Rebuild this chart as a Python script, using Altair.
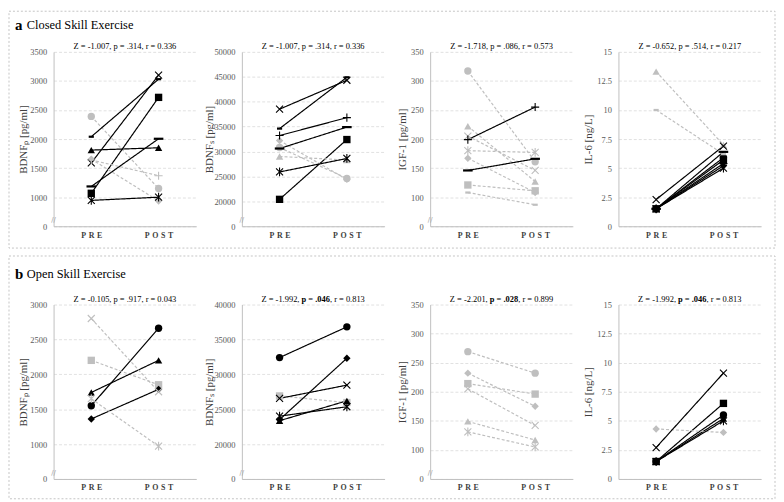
import altair as alt
import pandas as pd

SERIF = "Liberation Serif"

times = ["PRE", "POST"]

# ---------- a: Closed skill exercise (9 participants, one marker each) ----------
a_subjects = ["circle", "square", "triangle", "diamond", "x", "star", "plus", "sdash", "ldash"]
a1_pre = [2390, 1067, 1810, 1655, 1590, 945, 1640, 2040, 1185]
a1_post = [1150, 2717, 1850, 935, 3100, 1000, 1370, 3030, 2005]
a2_pre = [30800, 20400, 29000, 32200, 38500, 25900, 33200, 34600, 30600]
a2_post = [24600, 32400, 28300, 24400, 44300, 28600, 36800, 44900, 34900]
a3_pre = [317, 121, 222, 167, 205, 180, 199, 108, 146]
a3_post = [161, 111, 127, 108, 146, 177, 255, 87, 166]
a4_pre = [1.5, 1.5, 13.3, 1.5, 2.3, 1.5, 1.5, 10.0, 1.5]
a4_post = [5.9, 5.7, 7.0, 5.2, 6.9, 5.0, 5.4, 6.2, 6.4]

# ---------- b: Open skill exercise (6 participants) ----------
b_subjects = ["circle", "square", "triangle", "diamond", "x", "star"]
b1_pre = [1550, 2200, 1740, 1360, 2800, 1650]
b1_post = [2660, 1850, 2200, 1785, 1750, 970]
b2_pre = [32400, 26900, 23350, 23500, 26550, 24000]
b2_post = [36800, 25950, 26200, 32300, 28450, 25350]
b3_pre = [269, 214, 149, 232, 205, 131]
b3_post = [232, 196, 117, 175, 142, 105]
b4_pre = [1.5, 1.5, 1.5, 4.3, 2.7, 1.5]
b4_post = [5.5, 6.5, 5.2, 4.0, 9.1, 5.0]

# axis ticks (first tick is drawn as "0" on broken axes)
bdnfp_a_ticks = [500, 1000, 1500, 2000, 2500, 3000, 3500]
bdnfs_a_ticks = [15000, 20000, 25000, 30000, 35000, 40000, 45000, 50000]
igf_ticks = [50, 100, 150, 200, 250, 300, 350]
il6_ticks = [0, 2.5, 5, 7.5, 10, 12.5, 15]
bdnfp_b_ticks = [500, 1000, 1500, 2000, 2500, 3000]
bdnfs_b_ticks = [15000, 20000, 25000, 30000, 35000, 40000]

titles = ["BDNF\u209a [pg/ml]", "BDNF\u209b [pg/ml]", "IGF-1 [pg/ml]", "IL-6 [ng/L]"]

sub_a1 = [("Z = -1.007, p = .314, r = 0.336", False)]
sub_a2 = [("Z = -1.007, p = .314, r = 0.336", False)]
sub_a3 = [("Z = -1.718, p = .086, r = 0.573", False)]
sub_a4 = [("Z = -0.652, p = .514, r = 0.217", False)]
sub_b1 = [("Z = -0.105, p = .917, r = 0.043", False)]
sub_b2 = [("Z = -1.992,", False), ("p = .046", True), (", r = 0.813", False)]
sub_b3 = [("Z = -2.201,", False), ("p = .028", True), (", r = 0.899", False)]
sub_b4 = [("Z = -1.992,", False), ("p = .046", True), (", r = 0.813", False)]

SHAPE_DOMAIN = ["circle", "square", "triangle", "diamond", "x", "star", "plus", "sdash", "ldash"]
SHAPE_RANGE = [
    "circle", "square", "triangle-up", "diamond",
    "M-1,-1L1,1M-1,1L1,-1",
    "M-1,-1L1,1M-1,1L1,-1M0,-1.25L0,1.25",
    "M-1.15,0L1.15,0M0,-1.15L0,1.15",
    "M-0.7,-0.3H0.7V0.3H-0.7Z",
    "M-1.3,-0.3H1.3V0.3H-1.3Z",
]
FILLED = ["circle", "square", "triangle", "diamond", "sdash", "ldash"]
STROKED = ["x", "star", "plus"]

W, H = 144, 176
one = pd.DataFrame({"k": [0]})


def txt(text, x, y, **kw):
    return alt.Chart(one).mark_text(text=text, **kw).encode(x=alt.value(x), y=alt.value(y))


def make_panel(subjects, pre, post, ticks, ytitle, subtitle, broken, title_x, section=None):
    rows = []
    for s, a, b in zip(subjects, pre, post):
        trend = "up" if b > a else "down"
        rows.append(dict(subject=s, time="PRE", value=a, trend=trend))
        rows.append(dict(subject=s, time="POST", value=b, trend=trend))
    d = pd.DataFrame(rows)

    x = alt.X(
        "time:N",
        sort=times,
        scale=alt.Scale(type="point", domain=times, padding=0.56),
        axis=alt.Axis(
            title=None, labelAngle=0, ticks=False, grid=False,
            domainColor="#bfbfbf", domainWidth=1,
            labelFont=SERIF, labelFontWeight="bold", labelFontSize=8,
            labelColor="#404040", labelPadding=5,
            labelExpr="join(split(datum.label, ''), '\u2004')",
        ),
    )
    lo = ticks[0]
    y = alt.Y(
        "value:Q",
        scale=alt.Scale(domain=[ticks[0], ticks[-1]], nice=False, zero=False),
        axis=alt.Axis(
            values=ticks,
            labelExpr=f"datum.value == {lo} ? '0' : '' + datum.value",
            grid=True, gridDash=[3, 2], gridColor="#d9d9d9", gridWidth=0.8,
            domainColor="#bfbfbf", domainWidth=1,
            ticks=False, tickSize=0, labelPadding=7,
            labelFont=SERIF, labelFontSize=8.5, labelColor="#595959",
            title=ytitle, titleFont=SERIF, titleFontSize=11,
            titleFontWeight="normal", titleColor="#404040",
            titleX=title_x, titleY=H / 2, titleAngle=-90,
            titleAlign="center", titleBaseline="middle",
        ),
    )
    color = alt.Color("trend:N", scale=alt.Scale(domain=["up", "down"], range=["#000000", "#bfbfbf"]), legend=None)
    shape = alt.Shape("subject:N", scale=alt.Scale(domain=SHAPE_DOMAIN, range=SHAPE_RANGE), legend=None)

    lines = alt.Chart(d).mark_line(strokeWidth=1.2).encode(
        x=x, y=y, detail="subject:N", color=color,
        strokeDash=alt.StrokeDash("trend:N", scale=alt.Scale(domain=["up", "down"], range=[[1, 0], [3, 2]]), legend=None),
    )
    filled = alt.Chart(d).transform_filter(
        alt.FieldOneOfPredicate(field="subject", oneOf=FILLED)
    ).mark_point(filled=True, opacity=1, size=55).encode(x=x, y=y, shape=shape, color=color)
    stroked = alt.Chart(d).transform_filter(
        alt.FieldOneOfPredicate(field="subject", oneOf=STROKED)
    ).mark_point(filled=False, opacity=1, size=50, strokeWidth=1.1).encode(x=x, y=y, shape=shape, color=color)

    layers = [lines, filled, stroked]

    cx = W / 2
    if len(subtitle) == 1:
        layers.append(txt(subtitle[0][0], cx, -6, font=SERIF, fontSize=8.5, align="center", color="#000000"))
    else:
        left, bold, right = subtitle
        layers.append(txt(left[0], cx - 13.9, -6, font=SERIF, fontSize=8.5, align="right", color="#000000"))
        layers.append(txt(bold[0], cx - 11.8, -6, font=SERIF, fontSize=8.5, align="left", fontWeight="bold", color="#000000"))
        layers.append(txt(right[0], cx + 16.9, -6, font=SERIF, fontSize=8.5, align="left", color="#000000"))

    if broken:
        layers.append(txt("//", 0, H - 6, font="DejaVu Sans", fontSize=7, align="center", baseline="middle", color="#a6a6a6"))

    if section is not None:
        letter, name, top, bottom, base = section
        frame = alt.Chart(one).mark_rect(filled=False, color="#c4c4c4", strokeDash=[2, 2], strokeWidth=1).encode(
            x=alt.value(-45), x2=alt.value(728), y=alt.value(top), y2=alt.value(H + bottom)
        )
        layers.append(frame)
        layers.append(txt(letter, -39, base, font=SERIF, fontSize=15, fontWeight="bold", align="left", color="#000000"))
        layers.append(txt(name, -27, base, font=SERIF, fontSize=12.5, align="left", color="#000000"))

    return alt.layer(*layers).properties(width=W, height=H)


a1 = make_panel(a_subjects, a1_pre, a1_post, bdnfp_a_ticks, titles[0], sub_a1, True, -30,
                section=("a", "Closed Skill Exercise", -41, 22, -27))
a2 = make_panel(a_subjects, a2_pre, a2_post, bdnfs_a_ticks, titles[1], sub_a2, True, -33)
a3 = make_panel(a_subjects, a3_pre, a3_post, igf_ticks, titles[2], sub_a3, True, -28)
a4 = make_panel(a_subjects, a4_pre, a4_post, il6_ticks, titles[3], sub_a4, False, -30)
b1 = make_panel(b_subjects, b1_pre, b1_post, bdnfp_b_ticks, titles[0], sub_b1, True, -30,
                section=("b", "Open Skill Exercise", -49, 20, -31))
b2 = make_panel(b_subjects, b2_pre, b2_post, bdnfs_b_ticks, titles[1], sub_b2, True, -33)
b3 = make_panel(b_subjects, b3_pre, b3_post, igf_ticks, titles[2], sub_b3, True, -28)
b4 = make_panel(b_subjects, b4_pre, b4_post, il6_ticks, titles[3], sub_b4, False, -30)

chart = alt.concat(
    a1, a2, a3, a4, b1, b2, b3, b4,
    columns=4,
    spacing={"row": 79, "column": 46},
    bounds="flush",
).properties(
    padding={"left": 0, "top": 0, "right": 0, "bottom": 0},
    background="white",
).configure_view(stroke="transparent")

chart.save("out.html", embed_options={"renderer": "svg", "actions": False})
